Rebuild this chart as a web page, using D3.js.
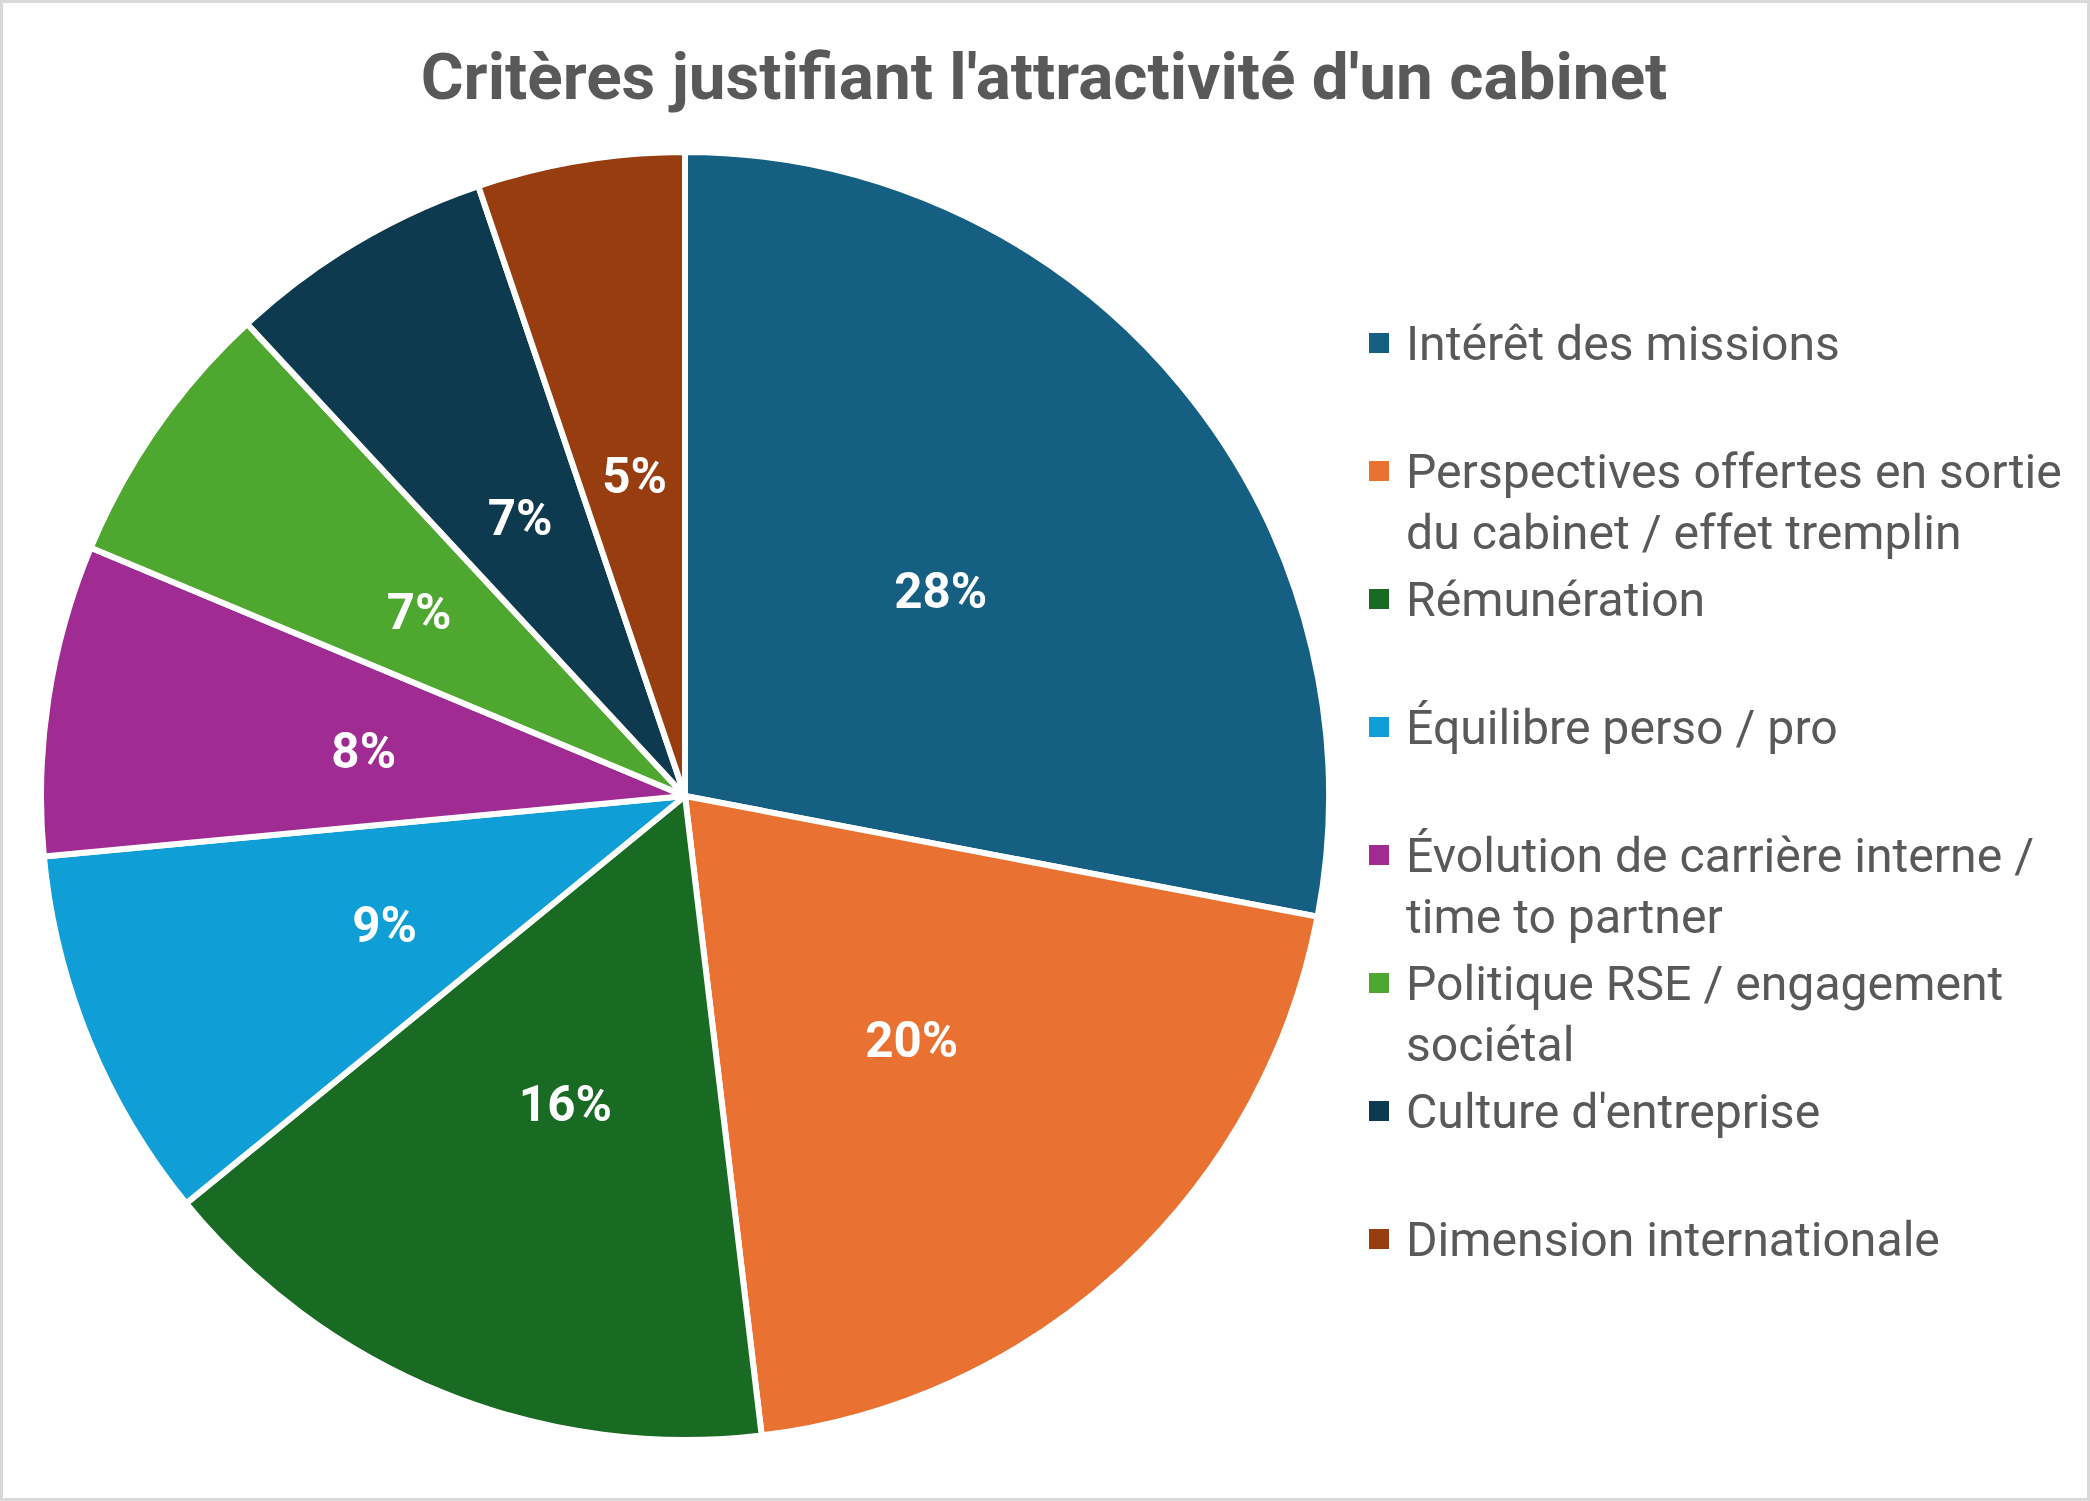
<!DOCTYPE html>
<html>
<head>
<meta charset="utf-8">
<script src="https://cdn.jsdelivr.net/npm/d3@7"></script>
<style>
  html, body { margin: 0; padding: 0; background: #fff; }
  svg { display: block; }
</style>
</head>
<body>
<svg id="chart" width="2090" height="1501"></svg>
<script>
const title = "Critères justifiant l'attractivité d'un cabinet";
const categories = [
  "Intérêt des missions",
  "Perspectives offertes en sortie du cabinet / effet tremplin",
  "Rémunération",
  "Équilibre perso / pro",
  "Évolution de carrière interne / time to partner",
  "Politique RSE / engagement sociétal",
  "Culture d'entreprise",
  "Dimension internationale"
];
const values = [28.0, 20.1, 16.0, 9.4, 7.8, 6.8, 6.7, 5.2];
const colors = ["#156082", "#E97132", "#196B24", "#0F9ED5", "#A02B93", "#4EA72E", "#0E3A4F", "#973D10"];

const W = 2090, H = 1501;
const svg = d3.select("#chart");
const FONT = "Roboto, 'Liberation Sans', Arial, sans-serif";

function fit(sample, target, weight) {
  const t = svg.append("text").attr("font-family", FONT).attr("font-weight", weight)
    .attr("font-size", 100).text(sample);
  const w = t.node().getComputedTextLength();
  t.remove();
  return 100 * target / w;
}

// border
svg.append("rect").attr("x", 1.5).attr("y", 1.5).attr("width", W - 3).attr("height", H - 3)
  .attr("fill", "#fff").attr("stroke", "#d9d9d9").attr("stroke-width", 3);

// title
const titleSize = fit(title, 1247, 700);
svg.append("text").attr("x", 1044).attr("y", 76)
  .attr("text-anchor", "middle").attr("dominant-baseline", "central")
  .attr("font-family", FONT).attr("font-weight", 700).attr("font-size", titleSize)
  .attr("fill", "#595959").text(title);

// pie
const cx = 685, cy = 796, R = 644;
const total = d3.sum(values);
const pie = d3.pie().sort(null).value(d => d)(values);
const arc = d3.arc().innerRadius(0).outerRadius(R);
const labelArc = d3.arc().innerRadius(328).outerRadius(328);
const g = svg.append("g").attr("transform", `translate(${cx},${cy})`);
g.selectAll("path").data(pie).join("path")
  .attr("d", arc)
  .attr("fill", (d, i) => colors[i])
  .attr("stroke", "#fff").attr("stroke-width", 6).attr("stroke-linejoin", "round");

const pctSize = fit("28%", 93, 700);
const fmt = d3.format(".0%");
g.selectAll("text.pct").data(pie).join("text")
  .attr("class", "pct")
  .attr("transform", d => { const c = labelArc.centroid(d); return `translate(${c[0] + 3},${c[1] + 4})`; })
  .attr("text-anchor", "middle").attr("dominant-baseline", "central")
  .attr("font-family", FONT).attr("font-weight", 700).attr("font-size", pctSize)
  .attr("fill", "#fff")
  .text(d => fmt(d.value / total));

// legend
const legSize = fit("Perspectives offertes en sortie", 656, 400);
const maxW = 675;
function wrap(str) {
  const words = str.split(" ");
  const lines = [];
  let cur = "";
  const t = svg.append("text").attr("font-family", FONT).attr("font-size", legSize);
  words.forEach(w => {
    const test = cur ? cur + " " + w : w;
    t.text(test);
    if (t.node().getComputedTextLength() > maxW && cur) { lines.push(cur); cur = w; }
    else cur = test;
  });
  if (cur) lines.push(cur);
  t.remove();
  return lines;
}
const legY0 = 343, legStep = 128, lineH = 61;
const leg = svg.append("g");
categories.forEach((c, i) => {
  const y = legY0 + i * legStep;
  leg.append("rect").attr("x", 1369).attr("y", y - 10).attr("width", 20).attr("height", 20)
    .attr("fill", colors[i]);
  const lines = wrap(c);
  const t = leg.append("text").attr("font-family", FONT).attr("font-size", legSize)
    .attr("fill", "#595959");
  lines.forEach((l, j) => {
    t.append("tspan").attr("x", 1406).attr("y", y + j * lineH)
      .attr("dominant-baseline", "central").text(l);
  });
});
</script>
</body>
</html>
